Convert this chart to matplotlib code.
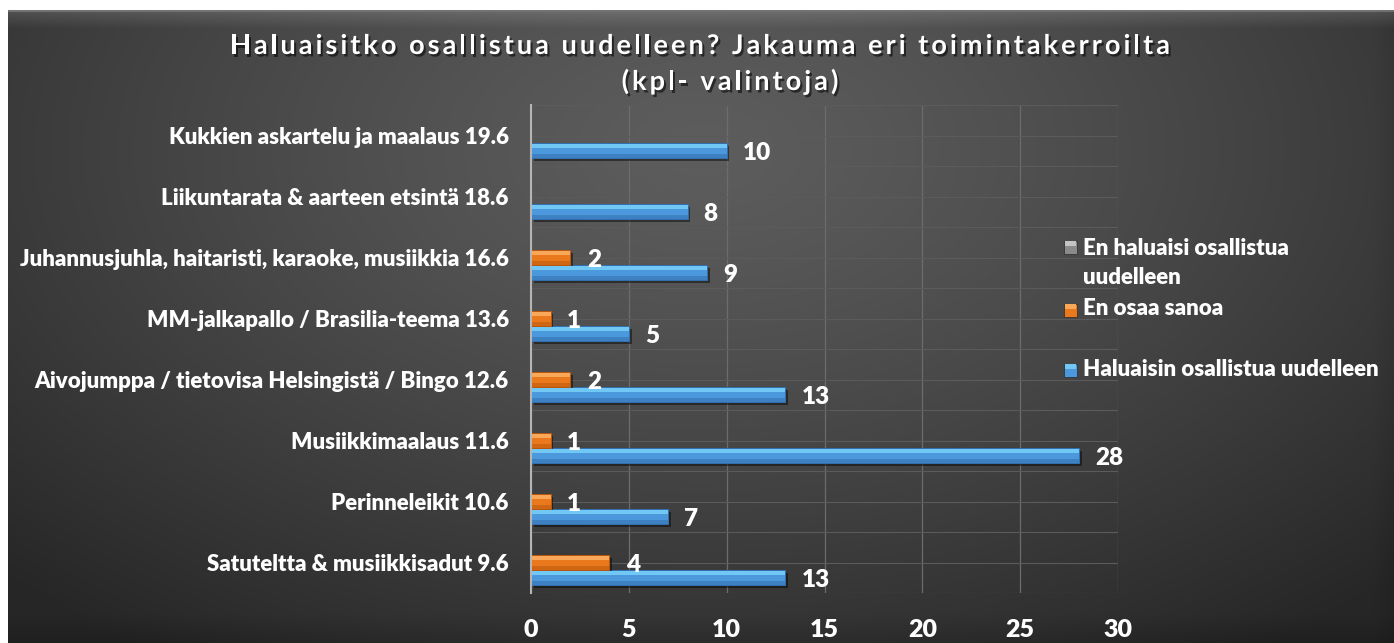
import numpy as np
import matplotlib
matplotlib.use("Agg")
import matplotlib.pyplot as plt
from matplotlib import patheffects as pe
from matplotlib.patches import Rectangle
from matplotlib.font_manager import FontProperties, findfont
from matplotlib.ft2font import FT2Font

# ---------------------------
# Data
# ---------------------------
categories = [
    "Satuteltta & musiikkisadut 9.6",
    "Perinneleikit 10.6",
    "Musiikkimaalaus 11.6",
    "Aivojumppa / tietovisa Helsingistä / Bingo 12.6",
    "MM-jalkapallo / Brasilia-teema 13.6",
    "Juhannusjuhla, haitaristi, karaoke, musiikkia 16.6",
    "Liikuntarata & aarteen etsintä 18.6",
    "Kukkien askartelu ja maalaus 19.6",
]
haluaisin = [13, 7, 28, 13, 5, 9, 8, 10]
en_osaa = [4, 1, 1, 2, 1, 2, 0, 0]
en_haluaisi = [0, 0, 0, 0, 0, 0, 0, 0]
series_names = ["Haluaisin osallistua uudelleen", "En osaa sanoa",
                "En haluaisi osallistua\nuudelleen"]
x_ticks = [0, 5, 10, 15, 20, 25, 30]
title_lines = ["Haluaisitko osallistua uudelleen? Jakauma eri toimintakerroilta",
               "(kpl- valintoja)"]

W, H = 1394, 643
FONT = "Lato"
WEIGHT = "heavy"
fig = plt.figure(figsize=(W / 100, H / 100), dpi=100, facecolor="white")

# ---------------------------
# Background (dark radial gradient with bevelled frame)
# ---------------------------
bx0, by0 = 8, 10
bw, bh = W - bx0, H - by0
yy, xx = np.mgrid[0:bh, 0:bw]
xn, yn = xx / bw, yy / bh
d = np.sqrt(((xn - 0.5) / 0.72) ** 2 + ((yn - 0.22) / 0.95) ** 2)
g = 0.365 - (0.365 - 0.15) * np.clip(d, 0, 1) ** 1.25
g += 0.10 * np.clip(1 - yy / 18.0, 0, 1)          # light top edge
g[:2, :] = 0.45
g -= 0.025 * np.clip(1 - (bh - yy) / 30.0, 0, 1)  # darker bottom bevel
g -= 0.015 * np.clip(1 - (bw - xx) / 22.0, 0, 1)  # right bevel
img = np.dstack([g, g, g])
ax_bg = fig.add_axes([bx0 / W, 0, bw / W, bh / H])
ax_bg.imshow(img, aspect="auto", interpolation="bilinear", zorder=-10)
ax_bg.set_axis_off()

# ---------------------------
# Plot area
# ---------------------------
left_px, right_px, top_px, bot_px = 531, 1118, 105, 593
ax = fig.add_axes([left_px / W, 1 - bot_px / H,
                   (right_px - left_px) / W, (bot_px - top_px) / H])
ax.patch.set_alpha(0)

y = np.arange(len(categories))
h = 0.245
series = [
    (haluaisin, -h, "#4b98dc", "#72c8f4", "#336fb0", 11.5),
    (en_osaa, 0.0, "#ea791d", "#f8a858", "#b9570c", 12),
    (en_haluaisi, h, "#8a8a8a", "#b5b5b5", "#5f5f5f", 12),
]
shadow = [pe.SimplePatchShadow(offset=(2, -2.5), shadow_rgbFace="black", alpha=0.45),
          pe.Normal()]
for vals, off, c_main, c_light, c_dark, gap in series:
    v = np.array(vals, dtype=float)
    m = v > 0
    if not m.any():
        continue
    yc = y[m] + off
    ax.barh(yc, v[m], height=h, color=c_main, edgecolor=c_dark, linewidth=0.7,
            zorder=3, path_effects=shadow)
    ax.barh(yc + h * 0.3, v[m], height=h * 0.32, color=c_light, linewidth=0, zorder=4)
    ax.barh(yc - h * 0.36, v[m], height=h * 0.24, color=c_dark, linewidth=0,
            zorder=4, alpha=0.55)
    for yi, vi in zip(yc, v[m]):
        ax.annotate(f"{vi:g}", xy=(vi, yi), xytext=(gap, -1.5), textcoords="offset points",
                    va="center", ha="left", color="white", fontsize=17.5,
                    fontweight=WEIGHT, family=FONT, zorder=5)

ax.set_xlim(0, 30)
ax.set_ylim(-0.5, len(categories) - 0.5)
ax.set_xticks(x_ticks)
ax.set_xticklabels([str(t) for t in x_ticks], color="white", fontsize=18,
                   fontweight=WEIGHT, family=FONT)
ax.set_yticks(y)
ax.set_yticklabels(categories, color="white", fontsize=16, fontweight=WEIGHT, family=FONT)
ax.set_yticks(np.arange(-0.5, len(categories), 1.0), minor=True)
ax.tick_params(axis="x", length=0, pad=19)
ax.tick_params(axis="y", which="both", length=0, pad=16)
ax.grid(axis="x", color="#6c6c6c", linewidth=0.9, zorder=0)
ax.grid(axis="y", which="both", color="#5b5b5b", linewidth=0.8, zorder=0)
ax.set_axisbelow(True)
for s in ["top", "right", "bottom"]:
    ax.spines[s].set_visible(False)
ax.spines["left"].set_color("#b5b5b5")
ax.spines["left"].set_linewidth(1.5)
ax.spines["left"].set_zorder(6)

# ---------------------------
# Title with expanded letter spacing
# ---------------------------
TITLE_FP = FontProperties(family=FONT, weight="bold", size=19.5)

def char_advances(s, fp):
    font = FT2Font(findfont(fp))
    font.set_size(fp.get_size_in_points(), 100)
    return [font.load_char(ord(c)).linearHoriAdvance / 65536 for c in s]

def spaced_text(s, cx, baseline, spacing, fp=TITLE_FP):
    adv = char_advances(s, fp)
    total = sum(adv) + spacing * (len(s) - 1)
    x = cx - total / 2
    for c, a in zip(s, adv):
        if c != " ":
            fig.text((x + a / 2) / W, 1 - baseline / H, c, ha="center", va="baseline",
                     color="white", fontproperties=fp,
                     path_effects=[pe.withSimplePatchShadow(offset=(1.5, -1.8),
                                                            shadow_rgbFace="black",
                                                            alpha=0.55)])
        x += a + spacing

# letter spacing chosen so the first line spans ~940 px, as in the reference
adv0 = char_advances(title_lines[0], TITLE_FP)
title_spacing = (940 - sum(adv0)) / (len(title_lines[0]) - 1)
spaced_text(title_lines[0], 700, 54, title_spacing)
spaced_text(title_lines[1], 730, 90, title_spacing)

# ---------------------------
# Legend (manual, Excel-like placement)
# ---------------------------
leg_items = [
    (series_names[2], "#8a8a8a", "#c4c4c4", 247, 263),
    (series_names[1], "#ea791d", "#f8a858", 310, 308),
    (series_names[0], "#4b98dc", "#72c8f4", 370, 370),
]
for label, col, col_l, ym, yt in leg_items:
    fig.add_artist(Rectangle((1064 / W, 1 - (ym + 6.5) / H), 13 / W, 13 / H,
                             transform=fig.transFigure, facecolor=col,
                             edgecolor="#2a2a2a", linewidth=0.5))
    fig.add_artist(Rectangle((1065 / W, 1 - (ym - 1) / H), 11 / W, 5 / H,
                             transform=fig.transFigure, facecolor=col_l,
                             linewidth=0))
    fig.text(1083 / W, 1 - yt / H, label, ha="left", va="center", color="white",
             fontsize=16, fontweight=WEIGHT, family=FONT, linespacing=1.5)

fig.savefig("out.png", dpi=100, facecolor=fig.get_facecolor())
